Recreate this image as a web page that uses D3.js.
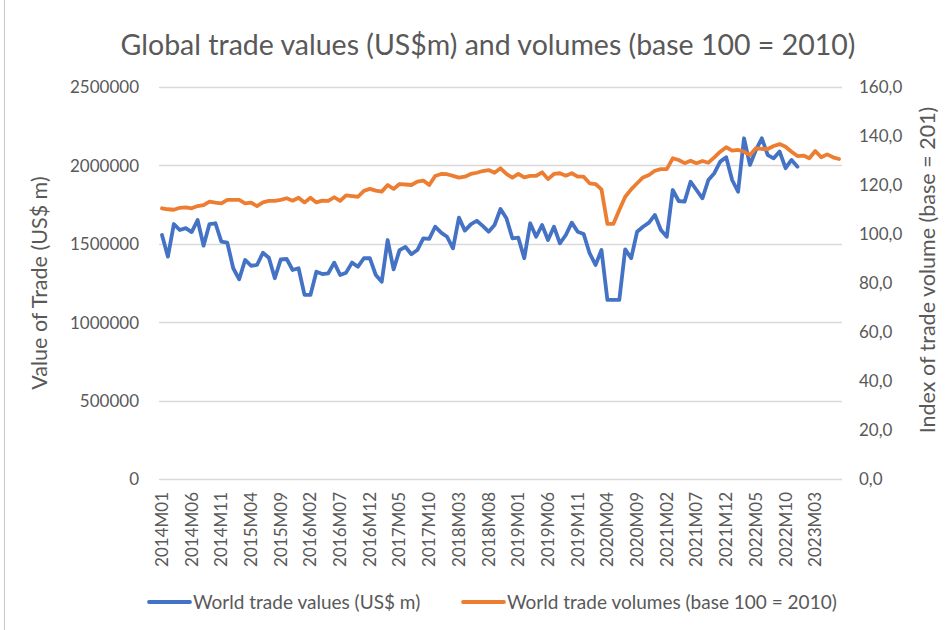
<!DOCTYPE html>
<html>
<head>
<meta charset="utf-8">
<script src="https://cdn.jsdelivr.net/npm/d3@7"></script>
<style>
  html, body { margin: 0; padding: 0; background: #fff; }
  svg { display: block; }
  text { font-family: "Lato", "Liberation Sans", sans-serif; fill: #595959; }
</style>
</head>
<body>
<svg id="chart" width="952" height="630"></svg>
<script>
// ---- Data ----
const startYear = 2014;
const monthCount = 115; // 2014M01 .. 2023M07
const months = [];
for (let i = 0; i < monthCount; i++) {
  const y = startYear + Math.floor(i / 12);
  const m = (i % 12) + 1;
  months.push(y + "M" + (m < 10 ? "0" + m : m));
}

const tradeValues = [
  1556000, 1418000, 1626000, 1588000, 1600000, 1575000, 1652000, 1488000, 1626000, 1631000, 1514000, 1507000,
  1344000, 1274000, 1397000, 1360000, 1365000, 1443000, 1411000, 1280000, 1401000, 1403000, 1333000, 1344000,
  1174000, 1174000, 1322000, 1307000, 1312000, 1380000, 1301000, 1316000, 1380000, 1354000, 1408000, 1408000,
  1301000, 1258000, 1524000, 1337000, 1460000, 1480000, 1433000, 1460000, 1535000, 1531000, 1609000, 1571000,
  1545000, 1471000, 1667000, 1584000, 1624000, 1647000, 1614000, 1577000, 1620000, 1722000, 1663000, 1535000,
  1539000, 1408000, 1631000, 1545000, 1620000, 1524000, 1609000, 1503000, 1556000, 1635000, 1577000, 1563000,
  1440000, 1365000, 1460000, 1142000, 1142000, 1142000, 1465000, 1408000, 1577000, 1609000, 1635000, 1684000,
  1588000, 1545000, 1843000, 1773000, 1769000, 1896000, 1843000, 1790000, 1907000, 1950000, 2024000, 2052000,
  1907000, 1832000, 2173000, 2003000, 2098000, 2173000, 2066000, 2045000, 2088000, 1982000, 2035000, 1992000
];

const tradeVolumes = [
  110.5, 110.1, 109.9, 110.7, 110.9, 110.5, 111.4, 111.8, 113.2, 112.8, 112.5, 113.9,
  113.9, 113.9, 112.5, 112.8, 111.4, 112.9, 113.5, 113.5, 113.9, 114.6, 113.6, 114.8,
  112.9, 114.8, 112.9, 113.6, 113.5, 115.0, 113.5, 115.8, 115.5, 115.2, 117.6, 118.4,
  117.7, 117.3, 120.0, 118.4, 120.4, 120.2, 120.0, 121.4, 121.8, 120.0, 123.7, 124.5,
  124.4, 123.7, 123.0, 123.4, 124.5, 125.0, 125.7, 126.1, 125.0, 126.8, 124.5, 123.0,
  124.5, 123.1, 123.7, 123.7, 125.2, 122.4, 124.5, 124.8, 123.8, 124.8, 123.4, 123.4,
  120.7, 120.4, 118.2, 104.1, 104.1, 109.8, 115.2, 118.2, 120.7, 123.1, 124.1, 125.8,
  126.5, 126.5, 130.9, 130.2, 128.9, 129.9, 128.9, 129.8, 129.1, 131.3, 133.6, 135.4,
  134.0, 134.3, 133.6, 132.2, 135.0, 134.7, 134.7, 135.9, 136.7, 135.6, 133.6, 131.8,
  132.0, 130.9, 133.9, 131.3, 132.5, 131.3, 130.6
];

const leftTicks = [0, 500000, 1000000, 1500000, 2000000, 2500000];
const rightTicks = [0, 20, 40, 60, 80, 100, 120, 140, 160];
const xTickLabels = months.filter((d, i) => i % 5 === 0);

const titleText = "Global trade values (US$m) and volumes (base 100 = 2010)";
const leftAxisTitle = "Value of Trade (US$ m)";
const rightAxisTitle = "Index of trade volume (base = 201)";
const seriesNames = ["World trade values (US$ m)", "World trade volumes (base 100 = 2010)"];
const seriesColors = ["#4472C4", "#ED7D31"];

// ---- Layout ----
const svg = d3.select("#chart");
const plot = { left: 159, right: 842, top: 87, bottom: 479 };

const x = d3.scaleBand().domain(months).range([plot.left, plot.right]);
const xc = d => x(d) + x.bandwidth() / 2;
const yL = d3.scaleLinear().domain([0, 2500000]).range([plot.bottom, plot.top]);
const yR = d3.scaleLinear().domain([0, 160]).range([plot.bottom, plot.top]);

// frame line on left
svg.append("line").attr("x1", 4.5).attr("x2", 4.5).attr("y1", 0).attr("y2", 630)
  .attr("stroke", "#c8c8c8").attr("stroke-width", 1);

// gridlines
svg.append("g").selectAll("line").data(leftTicks).join("line")
  .attr("x1", plot.left).attr("x2", plot.right)
  .attr("y1", d => Math.round(yL(d)) + 0.5).attr("y2", d => Math.round(yL(d)) + 0.5)
  .attr("stroke", "#d9d9d9").attr("stroke-width", 1.3);

// left axis
const leftAxis = d3.axisLeft(yL).tickValues(leftTicks).tickSize(0).tickPadding(0).tickFormat(d3.format("d"));
const gL = svg.append("g").attr("transform", `translate(139,0)`).call(leftAxis);
gL.select(".domain").remove();
gL.selectAll("text").style("font-size", "17px").attr("dy", "0.35em").style("fill", "#595959");

// right axis
const rightAxis = d3.axisRight(yR).tickValues(rightTicks).tickSize(0).tickPadding(0)
  .tickFormat(d => d3.format(".1f")(d).replace(".", ","));
const gR = svg.append("g").attr("transform", `translate(859,0)`).call(rightAxis);
gR.select(".domain").remove();
gR.selectAll("text").style("font-size", "17px").attr("dy", "0.35em").style("fill", "#595959");

// x axis
const xAxis = d3.axisBottom(x).tickValues(xTickLabels).tickSize(0).tickPadding(0);
const gX = svg.append("g").attr("transform", `translate(0,${plot.bottom})`).call(xAxis);
gX.select(".domain").remove();
gX.selectAll("text")
  .style("font-size", "17px")
  .style("fill", "#595959")
  .attr("text-anchor", "end")
  .attr("transform", "rotate(-90)")
  .attr("x", -13)
  .attr("y", 0)
  .attr("dy", "0.35em");

// lines
const lineL = d3.line().x((d, i) => xc(months[i])).y(d => yL(d));
const lineR = d3.line().x((d, i) => xc(months[i])).y(d => yR(d));

svg.append("path").datum(tradeValues).attr("d", lineL)
  .attr("fill", "none").attr("stroke", seriesColors[0]).attr("stroke-width", 3.8)
  .attr("stroke-linejoin", "round").attr("stroke-linecap", "round");
svg.append("path").datum(tradeVolumes).attr("d", lineR)
  .attr("fill", "none").attr("stroke", seriesColors[1]).attr("stroke-width", 3.8)
  .attr("stroke-linejoin", "round").attr("stroke-linecap", "round");

// title
svg.append("text").attr("x", 488).attr("y", 55).attr("text-anchor", "middle")
  .style("font-size", "28.5px").text(titleText);

// axis titles
svg.append("text").attr("transform", "translate(47,283) rotate(-90)").attr("text-anchor", "middle")
  .style("font-size", "21.5px").text(leftAxisTitle);
svg.append("text").attr("transform", "translate(935,270) rotate(-90)").attr("text-anchor", "middle")
  .style("font-size", "21.5px").text(rightAxisTitle);

// legend
const legendItems = [
  { name: seriesNames[0], color: seriesColors[0], x: 149 },
  { name: seriesNames[1], color: seriesColors[1], x: 463 }
];
const lg = svg.append("g").selectAll("g").data(legendItems).join("g")
  .attr("transform", d => `translate(${d.x},602)`);
lg.append("line").attr("x1", 0).attr("x2", 41).attr("y1", 0).attr("y2", 0)
  .attr("stroke", d => d.color).attr("stroke-width", 3.8).attr("stroke-linecap", "round");
lg.append("text").attr("x", 44).attr("y", 0).attr("dy", "0.35em")
  .style("font-size", "19px").text(d => d.name);
</script>
</body>
</html>
